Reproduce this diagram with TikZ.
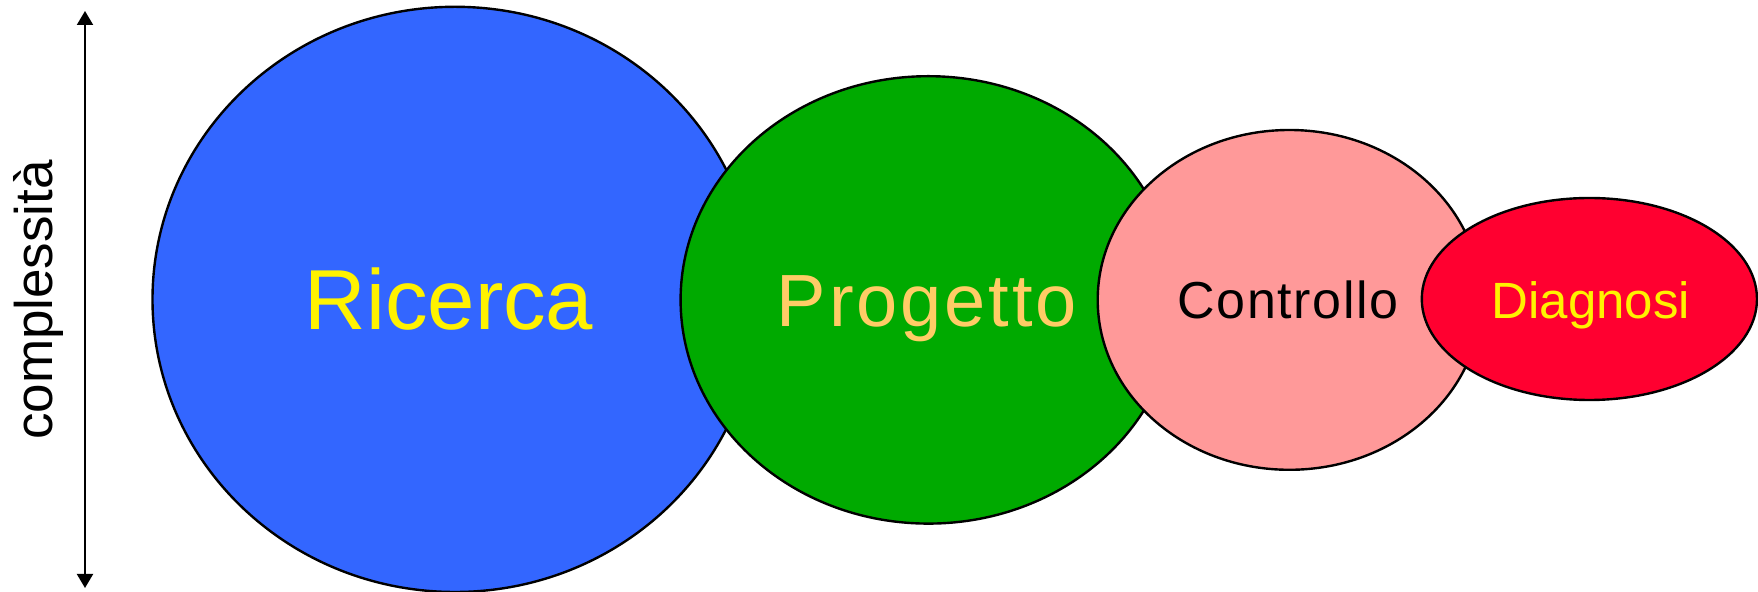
\documentclass[tikz,border=0pt]{standalone}
\usepackage{fontspec}
\setmainfont{Liberation Sans}
\usetikzlibrary{shapes.geometric,arrows.meta}
\definecolor{cblue}{HTML}{3366FF}
\definecolor{cgreen}{HTML}{00AA00}
\definecolor{cpink}{HTML}{FF9999}
\definecolor{cred}{HTML}{FF0030}
\definecolor{cgold}{HTML}{FFCC66}
\begin{document}
\begin{tikzpicture}[x=0.5pt,y=-0.5pt,
  blob/.style={ellipse,draw=black,line width=1.2pt,inner sep=0pt},
  lbl/.style={anchor=base,inner sep=0pt}]
\useasboundingbox (0,0) rectangle (1758,592);
\coordinate (atop) at (85,11);
\coordinate (abot) at (85,588);
\draw[line width=1pt,{Triangle[width=8pt,length=7pt]}-{Triangle[width=8pt,length=7pt]}] (atop) -- (abot);
\node[lbl,rotate=90,font=\fontsize{26.5}{30}\selectfont] (cx) at (52,300) {complessità};
\node[blob,fill=cblue,minimum width=302.5pt,minimum height=292.6pt] (ric) at (455,299.4) {};
\node[blob,fill=cgreen,minimum width=247.8pt,minimum height=223.7pt] (pro) at (928.4,299.9) {};
\node[blob,fill=cpink,minimum width=191.7pt,minimum height=169.9pt] (con) at (1289.4,299.9) {};
\node[blob,fill=cred,minimum width=167.6pt,minimum height=101pt] (dia) at (1589.4,299) {};
\node[lbl,text=yellow,font=\fontsize{42.6}{48}\selectfont] (tric) at (449,330) {Ricerca};
\node[lbl,text=cgold,font=\addfontfeatures{LetterSpace=4}\fontsize{37}{42}\selectfont] (tpro) at (927,326.7) {Progetto};
\node[lbl,text=black,font=\addfontfeatures{LetterSpace=3}\fontsize{26}{30}\selectfont] (tcon) at (1288,318.3) {Controllo};
\node[lbl,text=yellow,font=\fontsize{25.5}{30}\selectfont] (tdia) at (1591,318.3) {Diagnosi};
\end{tikzpicture}
\end{document}
